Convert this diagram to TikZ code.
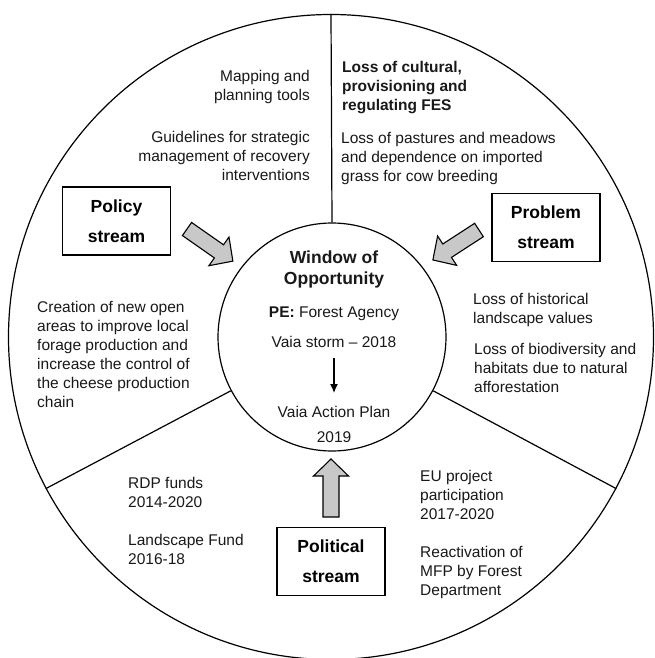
\documentclass[tikz,border=0pt]{standalone}
\usepackage{fontspec}
\setmainfont{Liberation Sans}
\usetikzlibrary{arrows.meta}
\tikzset{
  ln/.style={line width=1.2pt},
  txt/.style={font=\fontsize{15.5}{19}\selectfont, inner sep=0pt, text=black!90},
  bld/.style={font=\bfseries\fontsize{15.5}{19}\selectfont, inner sep=0pt, text=black!90},
  sbox/.style={draw, line width=1.1pt, minimum width=108pt, minimum height=68pt, inner sep=0pt, align=center, font=\bfseries\fontsize{17.5}{30}\selectfont},
  afill/.style={draw, line width=1.1pt, fill={rgb,255:red,200;green,200;blue,200}, line join=miter},
  blk/.pic={\path[afill] (0,-8) -- (#1-17,-8) -- (#1-17,-17.5) -- (#1,0) -- (#1-17,17.5) -- (#1-17,8) -- (0,8) -- cycle;}
}
\begin{document}
\begin{tikzpicture}[x=1pt,y=-1pt]
\fill[white] (0,0) rectangle (654,658);
\useasboundingbox (0,0) rectangle (654,658);

\node[draw, circle, ln, minimum size=645pt, inner sep=0pt] (outer) at (331,337) {};
\node[draw, circle, ln, minimum size=228pt, inner sep=0pt] (inner) at (332,337) {};
\draw[ln] (outer.90) -- (inner.90);
\draw[ln] (outer.208) -- (inner.208);
\draw[ln] (outer.-28) -- (inner.-28);

% top-left sector
\node[txt, align=right, anchor=north east] (map) at (310,70) {Mapping and\\planning tools};
\node[txt, align=right, anchor=north east] (guide) at (310,131) {Guidelines for strategic\\management of recovery\\interventions};
% top-right sector
\node[bld, align=left, anchor=north west] (loss) at (342,61) {Loss of cultural,\\provisioning and\\regulating FES};
\node[txt, align=left, anchor=north west] (past) at (341,132) {Loss of pastures and meadows\\and dependence on imported\\grass for cow breeding};
% left sector
\node[txt, align=left, anchor=north west] (crea) at (37,301) {Creation of new open\\areas to improve local\\forage production and\\increase the control of\\the cheese production\\chain};
% right sector
\node[txt, align=left, anchor=north west] (hist) at (473,293) {Loss of historical\\landscape values};
\node[txt, align=left, anchor=north west] (bio) at (474,343) {Loss of biodiversity and\\habitats due to natural\\afforestation};
% bottom-left
\node[txt, align=left, anchor=north west] (rdp) at (128,477) {RDP funds\\2014-2020};
\node[txt, align=left, anchor=north west] (lf) at (128,534) {Landscape Fund\\2016-18};
% bottom-right
\node[txt, align=left, anchor=north west] (eu) at (420,470) {EU project\\participation\\2017-2020};
\node[txt, align=left, anchor=north west] (mfp) at (420,546) {Reactivation of\\MFP by Forest\\Department};

% inner circle
\node[txt, font=\bfseries\fontsize{17.5}{21}\selectfont, align=center, anchor=north] (wo) at (334,251) {Window of\\Opportunity};
\node[txt, anchor=north] (pe) at (334,307) {\textbf{PE:} Forest Agency};
\node[txt, anchor=north] (vs) at (334,336) {Vaia storm -- 2018};
\node[txt, anchor=north] (vap) at (334,406) {Vaia Action Plan};
\node[txt, anchor=north] (yr) at (334,431.5) {2019};
\draw[-{Latex[length=9pt,width=8pt]}, line width=1.3pt, shorten <=10pt, shorten >=13pt] (vs.south) -- (vap.north);

% stream boxes
\node[sbox] (policy) at (116.5,221) {Policy\\stream};
\node[sbox] (problem) at (546,227.5) {Problem\\stream};
\node[sbox] (political) at (331,561.5) {Political\\stream};

% block arrows
\pic[rotate=-35] at (187,229) {blk=56};
\pic[rotate=213] at (479,230) {blk=55};
\pic[rotate=90] at (331,517) {blk=58};
\end{tikzpicture}
\end{document}
